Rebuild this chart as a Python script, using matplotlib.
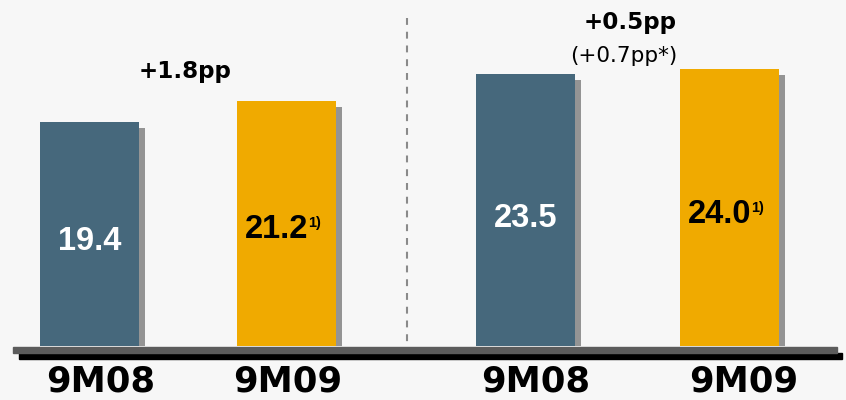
import matplotlib.pyplot as plt
from matplotlib.patches import Rectangle

# data
periods = ["9M08", "9M09", "9M08", "9M09"]
values = [19.4, 21.2, 23.5, 24.0]
value_labels = ["19.4", "21.2", "23.5", "24.0"]
footnotes = ["", "1)", "", "1)"]
changes = ["+1.8pp", "+0.5pp"]
change_notes = ["", "(+0.7pp*)"]

# layout (pixels)
PX = 11.56            # pixels per value unit
BASE = 346            # pixel row of zero
xpos = [89.5, 286.5, 525.5, 729.5]
period_x = [101, 288, 536, 744]
bar_w = 99
colors = ["#46687c", "#f0aa00", "#46687c", "#f0aa00"]
text_colors = ["white", "black", "white", "black"]
label_base = [250, 238, 227, 223]    # baseline rows of value labels
label_shift = [0, -10, 0, -10]


def py(row):
    return (BASE - row) / PX


fig = plt.figure(figsize=(8.46, 4.0), dpi=100)
fig.patch.set_facecolor("#f7f7f7")
ax = fig.add_axes([0, 0, 1, 1])
ax.set_facecolor("#f7f7f7")
ax.set_xlim(0, 846)
ax.set_ylim(py(400), py(0))
ax.axis("off")

# shadows then bars
ax.bar([x + 6 for x in xpos], [v - 6 / PX for v in values], width=bar_w,
       color="#949494", zorder=1)
ax.bar(xpos, values, width=bar_w, color=colors, zorder=2)

# baseline
ax.add_patch(Rectangle((19, py(359)), 842 - 19, 6 / PX, color="black", zorder=3))
ax.add_patch(Rectangle((13, py(353)), 837 - 13, 6 / PX, color="#5c5c5c", zorder=4))

# divider
ax.plot([406.5, 406.5], [py(18), py(345)], color="#8a8a8a", lw=1.5,
        dashes=(3.3, 3.3), zorder=1)

# value labels
for i in range(len(values)):
    t = ax.text(xpos[i] + label_shift[i], py(label_base[i]), value_labels[i],
                ha="center", va="baseline", color=text_colors[i],
                family="Liberation Sans", weight="bold", fontsize=23.5, zorder=5)
    if footnotes[i]:
        ax.annotate(footnotes[i], xy=(1, 1), xycoords=t, xytext=(0, -1.5),
                    textcoords="offset points", ha="left", va="top",
                    family="Liberation Sans", weight="bold", fontsize=10.5,
                    color=text_colors[i], zorder=5)

# category labels
for i in range(len(periods)):
    ax.text(period_x[i], py(391), periods[i], ha="center", va="baseline",
            family="DejaVu Sans", weight="bold", fontsize=25.5)

# change annotations
ax.text(185, py(78), changes[0], ha="center", va="baseline",
        family="DejaVu Sans", weight="bold", fontsize=16.6)
ax.text(630, py(29), changes[1], ha="center", va="baseline",
        family="DejaVu Sans", weight="bold", fontsize=16.6)
ax.text(624, py(62), change_notes[1], ha="center", va="baseline",
        family="DejaVu Sans", fontsize=15.5)

fig.savefig("out.png", dpi=100, facecolor=fig.get_facecolor())
